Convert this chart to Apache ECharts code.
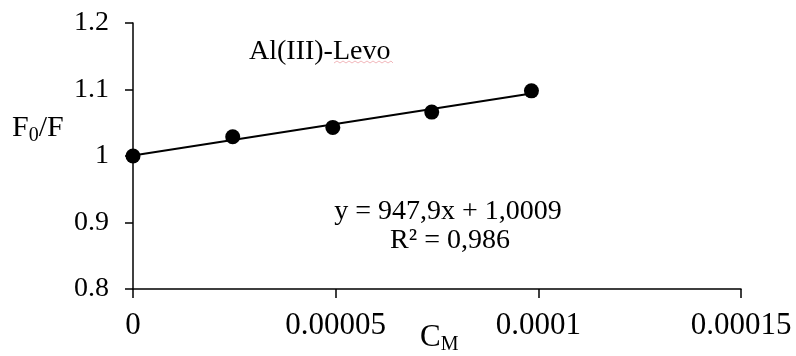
<!DOCTYPE html>
<html>
<head>
<meta charset="utf-8">
<script src="https://cdn.jsdelivr.net/npm/echarts@6/dist/echarts.min.js"></script>
<style>
  html, body { margin: 0; padding: 0; background: #fff; }
  #chart { width: 796px; height: 356px; }
</style>
</head>
<body>
<div id="chart"></div>
<script>
// measured points (C_M, F0/F)
var concValues = [0, 0.0000246, 0.0000493, 0.0000737, 0.0000983];
var ratioValues = [1.0, 1.029, 1.043, 1.066, 1.098];
// linear fit shown on the chart
var fitSlope = 947.9;
var fitIntercept = 1.0009;
var xTickLabels = ['0', '0.00005', '0.0001', '0.00015'];

var FONT = "'Liberation Serif', 'Times New Roman', serif";

var points = concValues.map(function (c, i) { return [c, ratioValues[i]]; });
var xEnd = concValues[concValues.length - 1];
var fitLine = [[0, fitIntercept], [xEnd, fitSlope * xEnd + fitIntercept]];

var myChart = echarts.init(document.getElementById('chart'));

var option = {
  backgroundColor: '#fff',
  animation: false,
  grid: { left: 133, right: 55, top: 23, bottom: 67 },
  xAxis: {
    type: 'value',
    min: 0,
    max: 0.00015,
    interval: 0.00005,
    splitLine: { show: false },
    axisLine: { lineStyle: { color: '#000', width: 1.5 } },
    axisTick: { length: 9, lineStyle: { color: '#000', width: 1.5 } },
    axisLabel: {
      margin: 21,
      color: '#000',
      fontFamily: FONT,
      fontSize: 31,
      formatter: function (v, idx) { return xTickLabels[idx]; }
    }
  },
  yAxis: {
    type: 'value',
    min: 0.8,
    max: 1.2,
    interval: 0.1,
    splitLine: { show: false },
    axisLine: { show: true, lineStyle: { color: '#000', width: 1.5 } },
    axisTick: { show: true, length: 8, lineStyle: { color: '#000', width: 1.5 } },
    axisLabel: {
      margin: 24,
      color: '#000',
      fontFamily: FONT,
      fontSize: 28
    }
  },
  series: [
    {
      type: 'line',
      data: fitLine,
      symbol: 'none',
      lineStyle: { color: '#000', width: 2 },
      z: 2
    },
    {
      type: 'scatter',
      data: points,
      symbol: 'circle',
      symbolSize: 15,
      itemStyle: { color: '#000', opacity: 1 },
      z: 3
    }
  ],
  graphic: [
    {
      type: 'text',
      left: 12,
      top: 113,
      style: {
        text: '{a|F}{s|0}{a|/F}',
        rich: {
          a: { fontFamily: FONT, fontSize: 30, fill: '#000' },
          s: { fontFamily: FONT, fontSize: 20, fill: '#000', padding: [15, 0, 0, 0] }
        }
      }
    },
    {
      type: 'text',
      left: 420,
      top: 322,
      style: {
        text: '{a|C}{s|M}',
        rich: {
          a: { fontFamily: FONT, fontSize: 31, fill: '#000' },
          s: { fontFamily: FONT, fontSize: 20, fill: '#000', padding: [15, 0, 0, 0] }
        }
      }
    },
    {
      type: 'text',
      left: 249,
      top: 38,
      style: { text: 'Al(III)-Levo', font: '28px ' + FONT, fill: '#000' }
    },
    {
      type: 'polyline',
      shape: {
        points: [[334, 63], [337, 61], [340, 63], [343, 61], [346, 63], [349, 61], [352, 63], [355, 61],
                 [358, 63], [361, 61], [364, 63], [367, 61], [370, 63], [373, 61], [376, 63], [379, 61],
                 [382, 63], [385, 61], [388, 63], [391, 61], [393, 63]]
      },
      style: { stroke: '#f2b8bc', lineWidth: 1, fill: null }
    },
    {
      type: 'text',
      x: 448,
      y: 212,
      style: {
        text: 'y = 947,9x + 1,0009',
        font: '28px ' + FONT,
        fill: '#000',
        align: 'center',
        verticalAlign: 'middle'
      }
    },
    {
      type: 'text',
      x: 450,
      y: 241,
      style: {
        text: 'R² = 0,986',
        font: '28px ' + FONT,
        fill: '#000',
        align: 'center',
        verticalAlign: 'middle'
      }
    }
  ]
};

myChart.setOption(option);
</script>
</body>
</html>
